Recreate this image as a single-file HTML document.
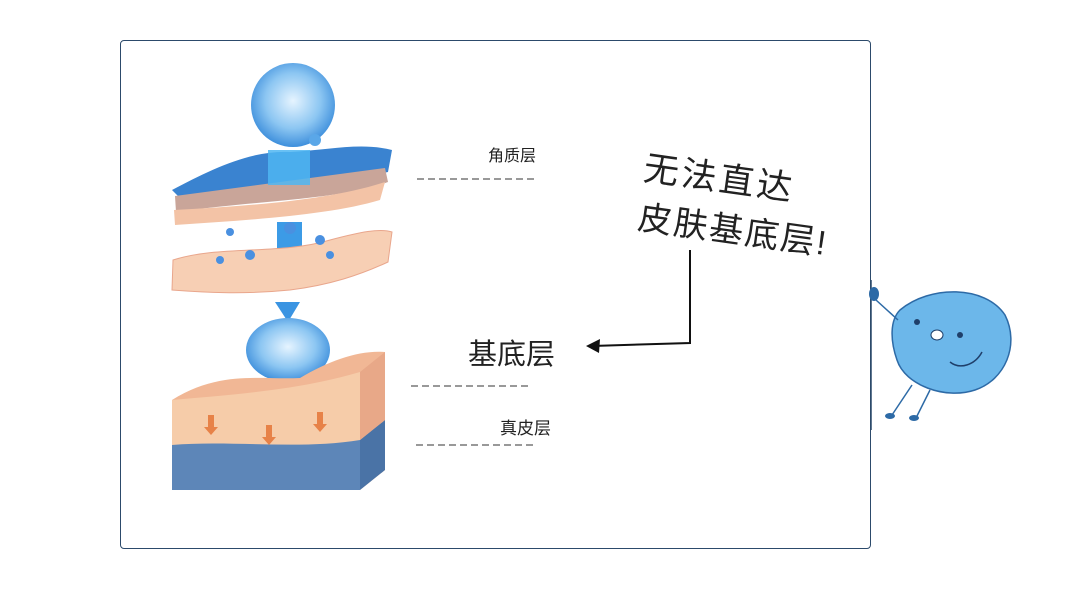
<!DOCTYPE html>
<html><head><meta charset="utf-8"><style>
html,body{margin:0;padding:0;background:#fff;}
body{width:1080px;height:600px;position:relative;overflow:hidden;font-family:"Liberation Sans","Noto Sans CJK SC",sans-serif;}
.box{position:absolute;left:120px;top:40px;width:749px;height:507px;border:1.5px solid #2c4a6b;border-radius:4px;}
.t{position:absolute;color:#222;white-space:nowrap;}
</style></head><body>
<div class="box"></div>
<svg width="1080" height="600" style="position:absolute;left:0;top:0">
<defs>
<radialGradient id="bub" cx="50%" cy="45%" r="55%"><stop offset="0" stop-color="#e6f4ff"/><stop offset="0.6" stop-color="#8cc6f2"/><stop offset="1" stop-color="#3e8fdc"/></radialGradient>
</defs>
<circle cx="293" cy="105" r="42" fill="url(#bub)"/>
<circle cx="315" cy="140" r="6" fill="#5aa7e8"/>
<path d="M172,190 C210,170 250,150 290,152 C330,150 360,142 392,150 L388,172 C350,180 300,185 250,188 L178,196Z" fill="#3a83d0"/>
<path d="M175,196 L385,168 L388,182 C340,200 260,200 176,212Z" fill="#c9a599"/>
<path d="M174,210 C250,206 330,200 385,182 L380,200 C330,215 250,220 175,225Z" fill="#f3c3a6"/>
<rect x="268" y="150" width="42" height="35" fill="#4fb6f2" opacity="0.85"/>
<rect x="277" y="222" width="25" height="50" fill="#3c9be6"/>
<path d="M173,260 C220,245 280,255 330,240 C360,232 380,228 392,232 L388,262 C360,275 330,285 290,290 C240,295 200,292 172,290Z" fill="#f7cfb4" stroke="#e9a68c"/>
<g fill="#4a90e0"><circle cx="230" cy="232" r="4"/><circle cx="250" cy="255" r="5"/><circle cx="220" cy="260" r="4"/><circle cx="320" cy="240" r="5"/><circle cx="330" cy="255" r="4"/><circle cx="290" cy="228" r="6"/></g>
<path d="M275,302 L300,302 L288,322Z" fill="#3a94e2"/>
<ellipse cx="288" cy="350" rx="42" ry="32" fill="url(#bub)"/>
<path d="M172,400 C220,370 260,380 300,378 C330,360 360,350 385,352 L385,470 L360,490 L172,490Z" fill="#f1b795"/>
<path d="M172,400 C230,395 300,390 360,372 L360,490 L172,490Z" fill="#f6cca9"/>
<path d="M172,445 C230,440 300,450 360,440 L360,490 L172,490Z" fill="#5d86b8"/>
<path d="M360,440 L385,420 L385,470 L360,490Z" fill="#4a73a6"/>
<path d="M360,372 L385,352 L385,420 L360,440Z" fill="#e8a888"/>
<g fill="#e78248"><path d="M208,415 h6 v12 h4 l-7,8 l-7,-8 h4z"/><path d="M266,425 h6 v12 h4 l-7,8 l-7,-8 h4z"/><path d="M317,412 h6 v12 h4 l-7,8 l-7,-8 h4z"/></g>
<g stroke="#333" stroke-width="1" stroke-dasharray="7,4">
<line x1="417" y1="179" x2="537" y2="179"/><line x1="411" y1="386" x2="531" y2="386"/><line x1="416" y1="445" x2="536" y2="445"/>
</g>
<path d="M690,250 L690,343 L592,346" fill="none" stroke="#111" stroke-width="2"/>
<path d="M586,346 L600,339 L599,353Z" fill="#111"/>
<line x1="871" y1="280" x2="871" y2="430" stroke="#2c4a6b" stroke-width="1.5"/>
<path d="M900,310 C930,285 985,285 1005,315 C1020,345 1005,380 975,390 C945,400 905,385 897,360 C890,340 890,320 900,310Z" fill="#6cb7ea" stroke="#2d6aa6" stroke-width="1.5"/>
<ellipse cx="874" cy="294" rx="5" ry="7" fill="#2d6aa6"/>
<path d="M876,300 L898,320" stroke="#2d6aa6" stroke-width="1.5"/>
<circle cx="917" cy="322" r="3" fill="#1f3f6a"/><circle cx="960" cy="335" r="3" fill="#1f3f6a"/>
<ellipse cx="937" cy="335" rx="6" ry="5" fill="#fff" stroke="#1f3f6a"/>
<path d="M950,362 C960,370 975,365 982,352" fill="none" stroke="#1f3f6a" stroke-width="1.5"/>
<path d="M912,385 L892,415 M930,390 L916,418" stroke="#2d6aa6" stroke-width="1.5"/>
<ellipse cx="890" cy="416" rx="5" ry="3" fill="#2d6aa6"/><ellipse cx="914" cy="418" rx="5" ry="3" fill="#2d6aa6"/>
</svg>
<div class="t" style="left:488px;top:142px;font-size:16px;">角质层</div>
<div class="t" style="left:468px;top:331px;font-size:29px;">基底层</div>
<div class="t" style="left:500px;top:414px;font-size:17px;">真皮层</div>
<div class="t" style="left:648px;top:140px;font-size:35px;letter-spacing:3px;transform:rotate(8deg);transform-origin:left top;">无法直达</div>
<div class="t" style="left:642px;top:190px;font-size:34px;letter-spacing:2px;transform:rotate(8deg);transform-origin:left top;">皮肤基底层!</div>
</body></html>
